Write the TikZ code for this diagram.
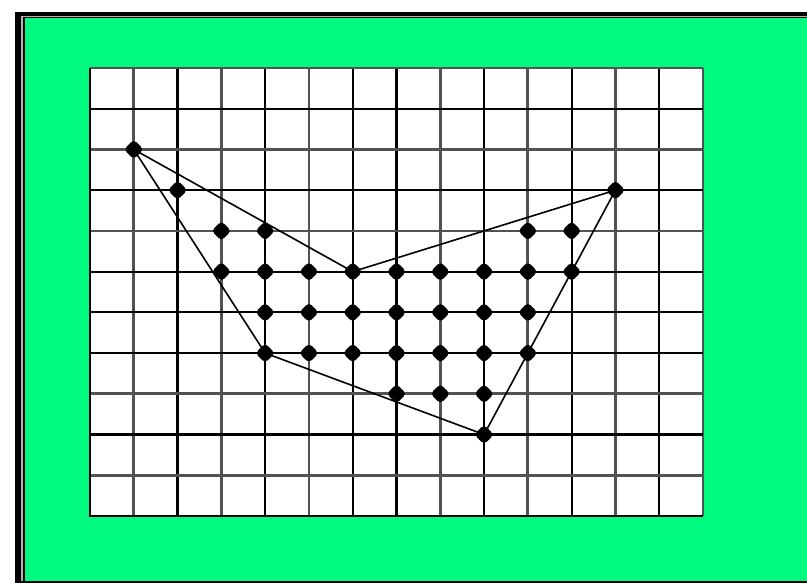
\documentclass[tikz,border=0pt]{standalone}
\usetikzlibrary{shapes.geometric}
\definecolor{bggreen}{RGB}{0,250,128}
\tikzset{
  gline/.style={draw=black!68, line width=2.8pt},
  bline/.style={draw=black, line width=2.2pt},
  poly/.style={draw=black, line width=1.6pt, line join=round},
  dot/.style={diamond, fill=black, inner sep=0pt, minimum width=20pt, minimum height=20pt, rounded corners=4pt}
}
\begin{document}
\begin{tikzpicture}[x=1pt,y=-1pt]
\useasboundingbox (0,0) rectangle (807,583);
\fill[white] (0,0) rectangle (807,583);
% frame
\fill[black] (15,12) rectangle (807,583);
\fill[black!30] (20.5,16) rectangle (807,581);
\fill[black] (22.5,17) rectangle (807,581);
\fill[bggreen] (24.5,18.5) rectangle (807,581);
% grid
\def\gx{43.786}\def\gy{40.727}
\fill[white] (90,68) rectangle (703,516);
\foreach \i/\t in {1/g,2/b,3/g,4/b,5/g,6/b,7/b,8/g,9/b,10/g,11/b,12/g,13/b,14/g}{
  \if g\t
    \draw[gline] ({90+\gx*\i},68) -- ({90+\gx*\i},516);
  \else
    \draw[bline] ({90+\gx*\i},68) -- ({90+\gx*\i},516);
  \fi
}
\foreach \j/\t in {0/g,1/b,2/g,3/b,4/g,5/b,6/b,7/b,8/g,9/b,10/g}{
  \if g\t
    \draw[gline] (90,{68+\gy*\j}) -- (703,{68+\gy*\j});
  \else
    \draw[bline] (90,{68+\gy*\j}) -- (703,{68+\gy*\j});
  \fi
}
\draw[bline] (90,68) -- (90,516) -- (703,516);
% polygon vertices
\coordinate (A) at ({90+\gx*1},{68+\gy*2});
\coordinate (B) at ({90+\gx*6},{68+\gy*5});
\coordinate (C) at ({90+\gx*12},{68+\gy*3});
\coordinate (D) at ({90+\gx*9},{68+\gy*9});
\coordinate (E) at ({90+\gx*4},{68+\gy*7});
\draw[poly] (A) -- (B) -- (C) -- (D) -- (E) -- cycle;
% dots
\foreach \i/\j in {1/2,12/3,2/3,3/4,4/4,10/4,11/4,
  3/5,4/5,5/5,6/5,7/5,8/5,9/5,10/5,11/5,
  4/6,5/6,6/6,7/6,8/6,9/6,10/6,
  4/7,5/7,6/7,7/7,8/7,9/7,10/7,
  7/8,8/8,9/8,9/9}{
  \node[dot] (d\i-\j) at ({90+\gx*\i},{68+\gy*\j}) {};
}
\end{tikzpicture}
\end{document}
